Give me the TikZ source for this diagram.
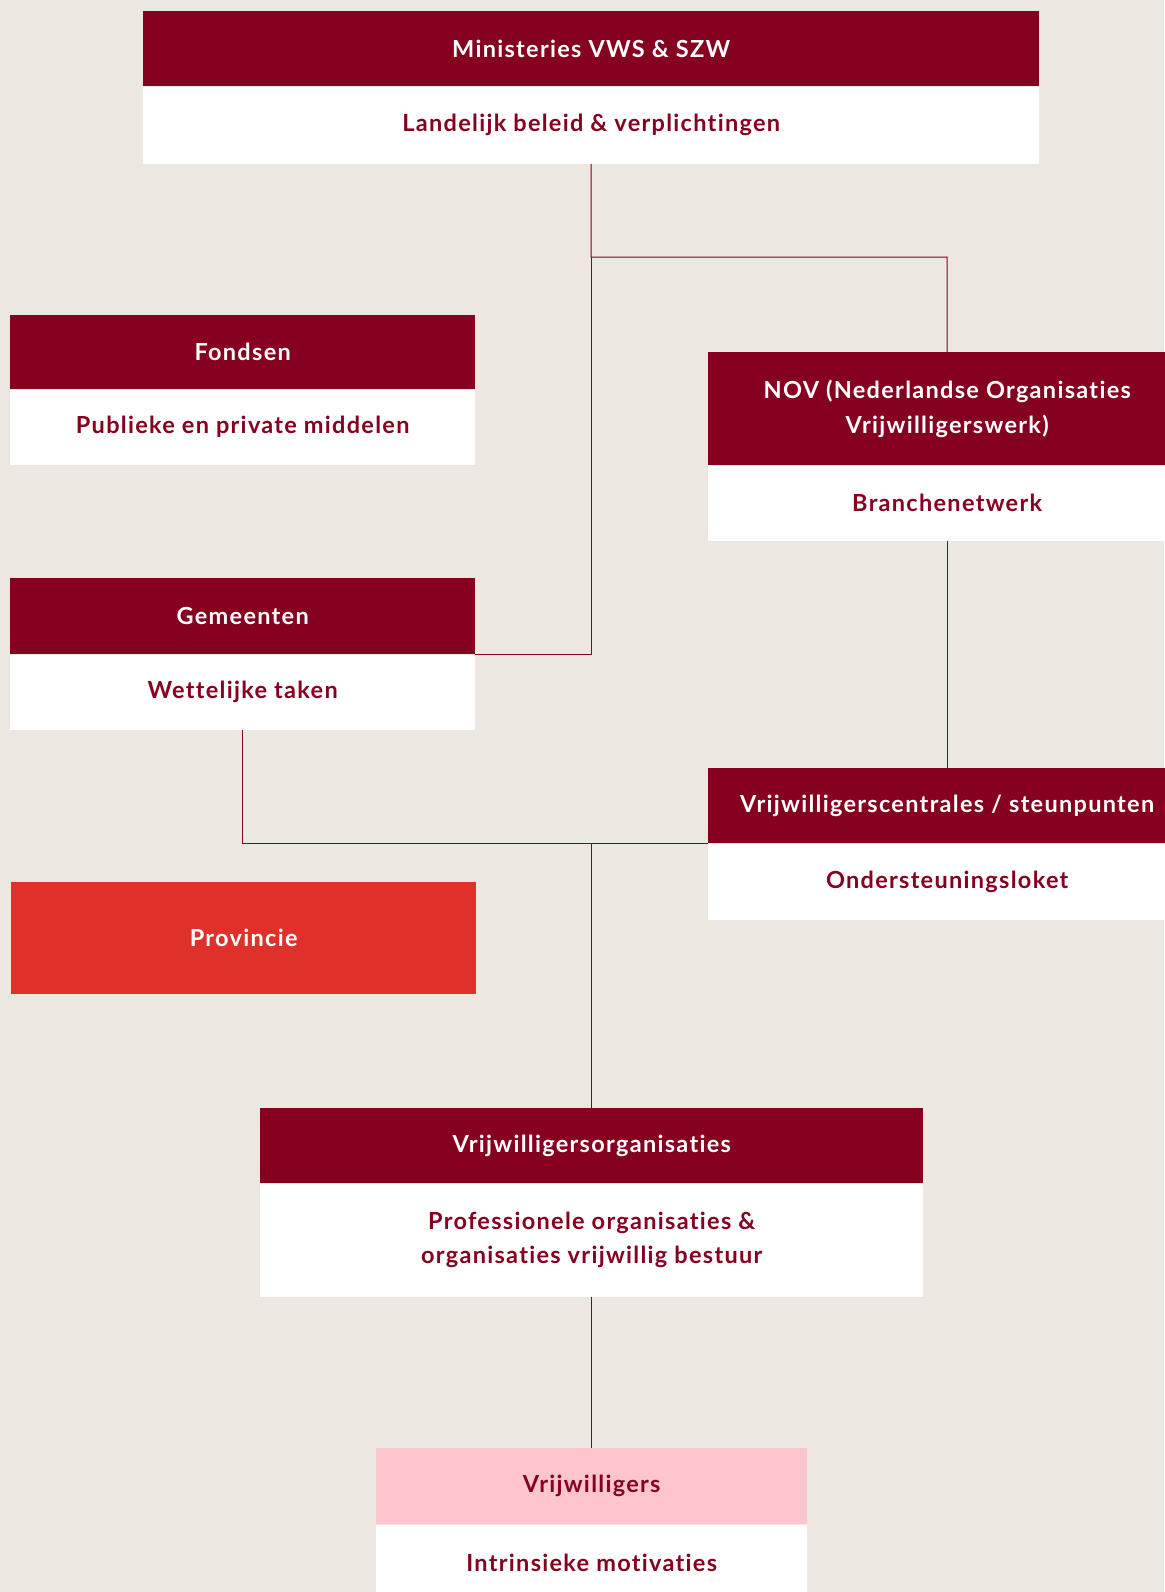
\documentclass[tikz,border=0pt]{standalone}
\usepackage{fontspec}
\setmainfont{Lato}[LetterSpace=5.5, Ligatures={NoCommon,NoRare}]
\usepackage{xcolor}
\usetikzlibrary{positioning}
\definecolor{darkRed}{HTML}{86001F}
\definecolor{brightRed}{HTML}{E0302A}
\definecolor{softPink}{HTML}{FEC6CC}
\definecolor{paper}{HTML}{ECE7E1}
\tikzstyle{nodeHead}=[rectangle, fill=darkRed, text=white, inner sep=0pt, align=center, anchor=north west, font=\bfseries\fontsize{23.5}{34.5}\selectfont]
\tikzstyle{nodeBody}=[rectangle, fill=white, text=darkRed, inner sep=0pt, align=center, font=\bfseries\fontsize{23.5}{34.5}\selectfont]
\tikzstyle{link}=[draw=darkRed, line width=1pt]

\begin{document}
\begin{tikzpicture}[x=1pt, y=-1pt]
      \fill[paper] (0,0) rectangle (1164,1592);
      \useasboundingbox (0,0) rectangle (1164,1592);
      % top level
      \node[nodeHead, minimum width=896pt, minimum height=75pt] (minHead) at (143,11) {Ministeries VWS \& SZW};
      \node[nodeBody, minimum width=896pt, minimum height=77pt, below=0pt of minHead] (minBody) {Landelijk beleid \& verplichtingen};
      % left column
      \node[nodeHead, minimum width=465pt, minimum height=74pt] (fonHead) at (10,315) {Fondsen};
      \node[nodeBody, minimum width=465pt, minimum height=75pt, below=0pt of fonHead] (fonBody) {Publieke en private middelen};
      \node[nodeHead, minimum width=465pt, minimum height=76pt] (gemHead) at (10,578) {Gemeenten};
      \node[nodeBody, minimum width=465pt, minimum height=75pt, below=0pt of gemHead] (gemBody) {Wettelijke taken};
      \node[nodeHead, fill=brightRed, minimum width=465pt, minimum height=112pt] (proHead) at (11,882) {Provincie};
      % right column
      \node[nodeHead, minimum width=478pt, minimum height=113pt] (novHead) at (708,352) {NOV (Nederlandse Organisaties\\Vrijwilligerswerk)};
      \node[nodeBody, minimum width=478pt, minimum height=75pt, below=0pt of novHead] (novBody) {Branchenetwerk};
      \node[nodeHead, minimum width=478pt, minimum height=75pt] (vcHead) at (708,768) {Vrijwilligerscentrales / steunpunten};
      \node[nodeBody, minimum width=478pt, minimum height=76pt, below=0pt of vcHead] (vcBody) {Ondersteuningsloket};
      % bottom
      \node[nodeHead, minimum width=663pt, minimum height=75pt] (voHead) at (260,1108) {Vrijwilligersorganisaties};
      \node[nodeBody, minimum width=663pt, minimum height=113pt, below=0pt of voHead] (voBody) {Professionele organisaties \&\\organisaties vrijwillig bestuur};
      \node[nodeHead, fill=softPink, text=darkRed, minimum width=431pt, minimum height=76pt] (volHead) at (376,1448) {Vrijwilligers};
      \node[nodeBody, minimum width=431pt, minimum height=76pt, below=0pt of volHead] (volBody) {Intrinsieke motivaties};
      % connectors
      \coordinate (fork) at (591,257);
      \draw[link] (minBody.south) -- (fork) -| (novHead.north);
      \draw[link] (fork) |- (gemHead.south east);
      \draw[link] (novBody.south) -- (vcHead.north);
      \draw[link] (gemBody.south) |- (vcHead.south west);
      \coordinate (join) at (voHead.north |- vcHead.south west);
      \draw[link] (join) -- (voHead.north);
      \draw[link] (voBody.south) -- (volHead.north);
    \end{tikzpicture}
\end{document}
